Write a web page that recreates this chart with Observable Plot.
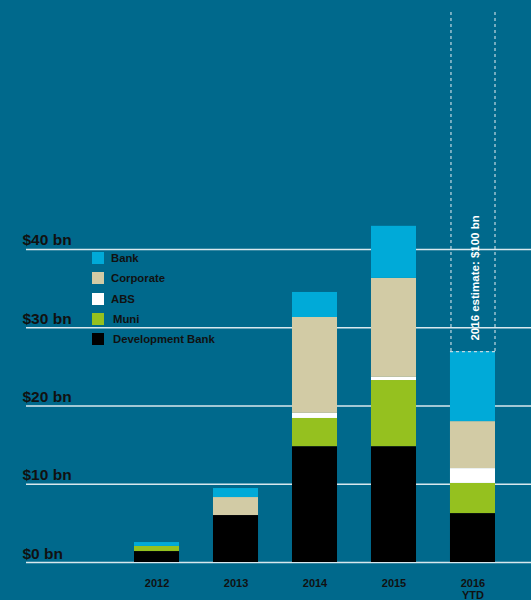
<!DOCTYPE html>
<html>
<head>
<meta charset="utf-8">
<script src="https://cdn.jsdelivr.net/npm/d3@7"></script>
<script src="https://cdn.jsdelivr.net/npm/@observablehq/plot@0.6"></script>
<style>
  html, body { margin: 0; padding: 0; background: #00698c; }
  #wrap { position: relative; width: 531px; height: 600px; font-family: "Liberation Sans", Arial, sans-serif; }
  #legend { position: absolute; left: 92px; top: 252px; }
  .item { position: absolute; left: 0; white-space: nowrap; }
  .sw { position: absolute; left: 0; top: 0; width: 12px; height: 12px; }
  .lab { position: absolute; left: 19px; top: 0; font-size: 11.3px; font-weight: bold; color: #111; line-height: 12px; }
</style>
</head>
<body>
<div id="wrap">
  <div id="chart"></div>
  <div id="legend"></div>
</div>
<script>
// Categories (x axis)
const years = ["2012", "2013", "2014", "2015", "2016 YTD"];
const yearLabels = ["2012", "2013", "2014", "2015", "2016\nYTD"];
// Series, bottom to top of stack
const series = ["Development Bank", "Muni", "ABS", "Corporate", "Bank"];
const seriesColors = ["#000000", "#95c11f", "#ffffff", "#d2cba5", "#00aad8"];
// Legend order (top to bottom)
const legendOrder = ["Bank", "Corporate", "ABS", "Muni", "Development Bank"];
// Values in $ bn, per year
const developmentBank = [1.4, 6.0, 14.8, 14.8, 6.25];
const muni            = [0.65, 0, 3.6, 8.45, 3.85];
const abs             = [0, 0, 0.65, 0.4, 1.9];
const corporate       = [0, 2.3, 12.25, 12.65, 6.0];
const bank            = [0.5, 1.15, 3.2, 6.65, 8.95];
// Y ticks
const yTicks = [0, 10, 20, 30, 40];
// 2016 estimate annotation
const estimateLabel = "2016 estimate: $100 bn";
const estimateBoxTop = 70.5; // visible top of the dashed estimate box, $ bn

const seriesValues = [developmentBank, muni, abs, corporate, bank];
const data = [];
years.forEach((y, i) => {
  series.forEach((s, j) => {
    data.push({year: y, series: s, value: seriesValues[j][i]});
  });
});
const total2016 = series.reduce((acc, s, j) => acc + seriesValues[j][4], 0);

const xRange = [134, 495];
const padInner = 0.43;
const step = (xRange[1] - xRange[0]) / (years.length - padInner);
const bw = step * (1 - padInner);
const dashStyle = {stroke: "#c2d9e2", strokeWidth: 1.2, strokeDasharray: "3,3"};
const est = [{year: "2016 YTD", y1: total2016, y2: estimateBoxTop}];

const chart = Plot.plot({
  width: 531,
  height: 600,
  marginLeft: 26,
  marginRight: 0,
  marginTop: 0,
  marginBottom: 38,
  style: {background: "#00698c", fontFamily: "Liberation Sans, Arial, sans-serif", overflow: "visible"},
  x: {domain: years, range: xRange, paddingInner: padInner, paddingOuter: 0, round: false, axis: null},
  y: {domain: [0, 71.8], axis: null},
  color: {domain: series, range: seriesColors},
  marks: [
    Plot.ruleY(yTicks, {stroke: "#ffffff", strokeOpacity: 0.85, strokeWidth: 1.5}),
    Plot.text(yTicks, {
      y: d => d, text: d => `$${d} bn`, frameAnchor: "left", textAnchor: "start",
      lineAnchor: "bottom", dx: -4, dy: -4, fontSize: 15.5, fontWeight: "bold", fill: "#111"
    }),
    Plot.barY(data, {x: "year", y: "value", fill: "series", inset: 0}),
    Plot.ruleX(est, {x: "year", y1: "y1", y2: "y2", dx: -bw / 2 + 0.5, ...dashStyle}),
    Plot.ruleX(est, {x: "year", y1: "y1", y2: "y2", dx: bw / 2 - 0.5, ...dashStyle}),
    Plot.tickY(est, {x: "year", y: "y1", ...dashStyle}),
    Plot.text([{year: "2016 YTD", y: total2016}], {
      x: "year", y: "y", text: () => estimateLabel, rotate: -90, textAnchor: "start",
      dy: -11, dx: 2, fill: "#ffffff", fontSize: 11.5, fontWeight: "bold"
    }),
    Plot.text(years, {
      x: d => d, text: (d, i) => yearLabels[i], frameAnchor: "bottom", lineAnchor: "top",
      dy: 15.5, lineHeight: 1.1, fontSize: 11, fontWeight: "bold", fill: "#111"
    })
  ]
});
document.getElementById("chart").appendChild(chart);

const legend = document.getElementById("legend");
legendOrder.forEach((s, i) => {
  const item = document.createElement("div");
  item.className = "item";
  item.style.top = (i * 20.25) + "px";
  const sw = document.createElement("div");
  sw.className = "sw";
  sw.style.background = seriesColors[series.indexOf(s)];
  const lab = document.createElement("div");
  lab.className = "lab";
  lab.textContent = s;
  if (i >= 3) lab.style.left = "21px";
  item.appendChild(sw);
  item.appendChild(lab);
  legend.appendChild(item);
});
</script>
</body>
</html>
